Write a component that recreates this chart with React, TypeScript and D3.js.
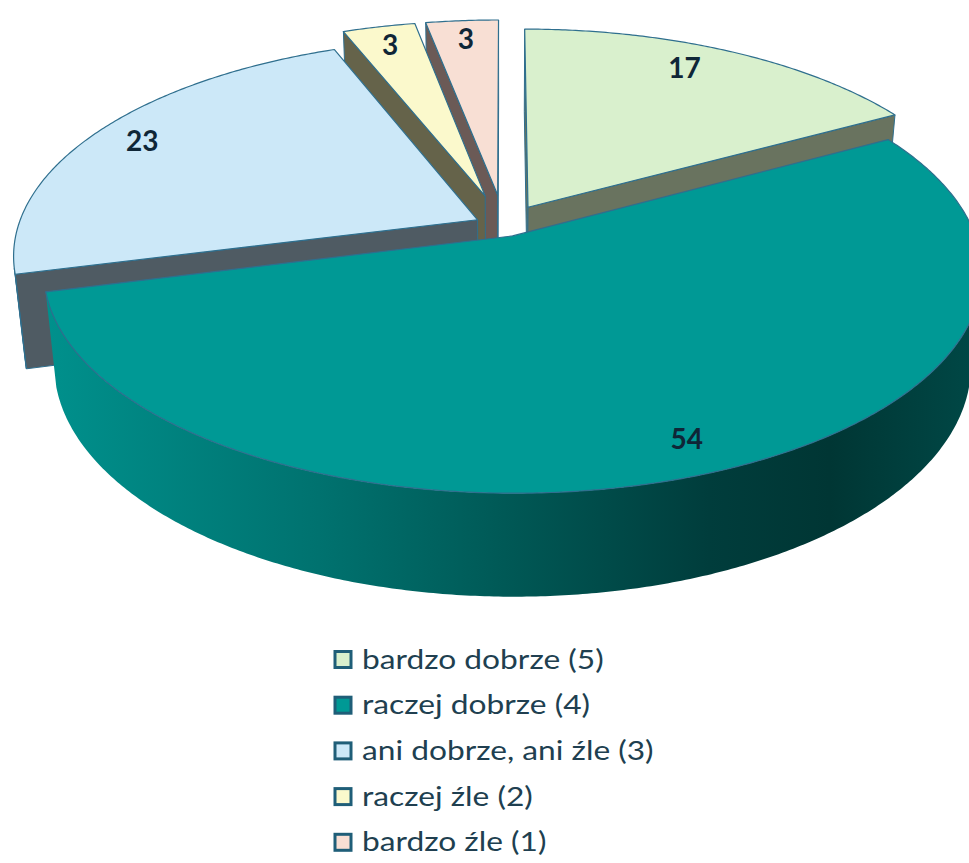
import React from "react";
import * as d3 from "d3";

// ---- data ----
const categories = [
  "bardzo dobrze (5)",
  "raczej dobrze (4)",
  "ani dobrze, ani źle (3)",
  "raczej źle (2)",
  "bardzo źle (1)",
];
const values = [17, 54, 23, 3, 3];
const valueLabels = ["17", "54", "23", "3", "3"];

// ---- style ----
const topColors = ["#d9f0cd", "#009995", "#cce8f8", "#fbf9cc", "#f8dfd4"];
const sideColors = ["#69735f", "#00726f", "#4f5b63", "#65634a", "#6b5a56"];
const explode = [0.104, 0.05, 0.065, 0.15, 0.15];
const labelFrac = [0.45, 0.5, 0.5, 0.5, 0.5];
const labelR = [0.85, 0.88, 0.88, 0.88, 0.88];

const W = 969;
const H = 863;
// projection parameters (perspective view of a unit-radius pie)
const D = 5.42;
const SIN = 0.49;
const COS = Math.sqrt(1 - SIN * SIN);
const FX = 2490;
const FY = 2349;
const CX = 504;
const CY = 226;
const THICK = 0.25;

function proj(X: number, Y: number, z: number): [number, number] {
  const depth = D + Y * COS - z * SIN;
  return [CX + (FX * X) / depth, CY - (FY * (Y * SIN + z * COS)) / depth];
}
const cam = [0, -D * COS, D * SIN];

function pathOf(pts: [number, number][]) {
  return d3.line()(pts) + "Z";
}

export default function App() {
  const arcs = d3
    .pie<number>()
    .sort(null)
    .startAngle(0)
    .endAngle(2 * Math.PI)(values);

  const slices = arcs.map((a, i) => {
    const mid = (a.startAngle + a.endAngle) / 2;
    const ox = explode[i] * Math.sin(mid);
    const oy = explode[i] * Math.cos(mid);
    const rim = (t: number, z: number) => proj(ox + Math.sin(t), oy + Math.cos(t), z);
    const n = Math.max(4, Math.ceil(((a.endAngle - a.startAngle) * 180) / Math.PI / 0.5));
    const ts = d3.range(n + 1).map((k) => a.startAngle + ((a.endAngle - a.startAngle) * k) / n);

    const top: [number, number][] = [proj(ox, oy, 0), ...ts.map((t) => rim(t, 0))];

    // outer wall visible runs
    const walls: [number, number][][] = [];
    let run: number[] = [];
    const flush = () => {
      if (run.length > 1) {
        walls.push([
          ...run.map((t) => rim(t, 0)),
          ...run.slice().reverse().map((t) => rim(t, -THICK)),
        ]);
      }
      run = [];
    };
    ts.forEach((t) => {
      const px = ox + Math.sin(t);
      const py = oy + Math.cos(t);
      const dot = (cam[0] - px) * Math.sin(t) + (cam[1] - py) * Math.cos(t);
      if (dot > 0) run.push(t);
      else flush();
    });
    flush();

    // radial faces
    const faces: [number, number][][] = [];
    const faceAt = (t: number, nx: number, ny: number) => {
      const dot = (cam[0] - ox) * nx + (cam[1] - oy) * ny;
      if (dot > 0) {
        faces.push([proj(ox, oy, 0), rim(t, 0), rim(t, -THICK), proj(ox, oy, -THICK)]);
      }
    };
    faceAt(a.startAngle, -Math.cos(a.startAngle), Math.sin(a.startAngle));
    faceAt(a.endAngle, Math.cos(a.endAngle), -Math.sin(a.endAngle));

    const lt = a.startAngle + (a.endAngle - a.startAngle) * labelFrac[i];
    const lp = proj(ox + labelR[i] * Math.sin(lt), oy + labelR[i] * Math.cos(lt), 0);

    return { i, far: Math.cos(mid), top, walls, faces, lp };
  });

  const order = slices.slice().sort((p, q) => q.far - p.far);
  const edge = "#2f6f8e";

  return (
    <svg
      width={W}
      height={H}
      style={{ position: "absolute", left: 0, top: 0, display: "block", background: "#ffffff" }}
    >
      <defs>
        <linearGradient id="tealWall" gradientUnits="userSpaceOnUse" x1={40} y1={0} x2={969} y2={0}>
          <stop offset="0" stopColor="#00918d" />
          <stop offset="0.3" stopColor="#00726f" />
          <stop offset="0.5" stopColor="#005956" />
          <stop offset="0.72" stopColor="#003d3c" />
          <stop offset="0.85" stopColor="#003634" />
          <stop offset="1" stopColor="#004745" />
        </linearGradient>
      </defs>
      {order.map((s) => (
        <g key={s.i}>
          {s.faces.map((f, k) => (
            <path key={"f" + k} d={pathOf(f)} fill={sideColors[s.i]} stroke={edge} strokeWidth={1} strokeLinejoin="round" />
          ))}
          {s.walls.map((w, k) => (
            <path
              key={"w" + k}
              d={pathOf(w)}
              fill={s.i === 1 ? "url(#tealWall)" : sideColors[s.i]}
              stroke={s.i === 1 ? "none" : edge}
              strokeWidth={1}
            />
          ))}
          <path d={pathOf(s.top)} fill={topColors[s.i]} stroke={edge} strokeWidth={1.2} strokeLinejoin="round" />
        </g>
      ))}
      {slices.map((s) => (
        <text
          key={"l" + s.i}
          x={s.lp[0]}
          y={s.lp[1]}
          textAnchor="middle"
          dy="0.36em"
          fontFamily="Lato, 'Open Sans', sans-serif"
          fontWeight={700}
          fontSize={28}
          fill="#0f2637"
        >
          {valueLabels[s.i]}
        </text>
      ))}
      <g>
        {categories.map((c, i) => {
          const y = 660 + i * 45.7;
          return (
            <g key={"lg" + i}>
              <rect x={335} y={y - 8.5} width={16} height={16} fill={topColors[i]} stroke="#1f5e78" strokeWidth={3} />
              <text
                transform={`translate(362,${y + 8.5}) scale(1.22,1)`}
                fontFamily="Lato, 'Open Sans', sans-serif"
                fontSize={26}
                fill="#203f50"
              >
                {c}
              </text>
            </g>
          );
        })}
      </g>
    </svg>
  );
}
